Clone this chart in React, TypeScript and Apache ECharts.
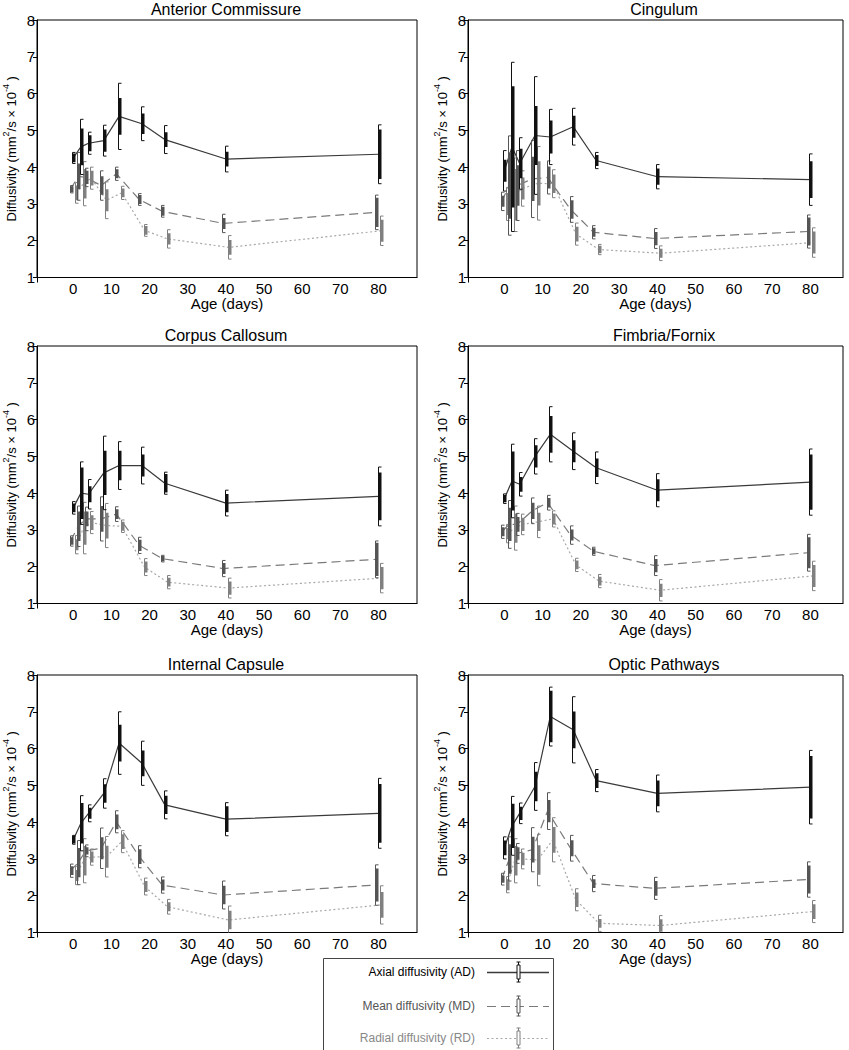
import React, { useEffect, useRef } from "react";
import * as echarts from "echarts";

// ---------- data ----------
const ages = [0, 2, 4, 8, 12, 18, 24, 40, 80];
const xTickValues = [0, 10, 20, 30, 40, 50, 60, 70, 80];
const panelTitles = [
  "Anterior Commissure",
  "Cingulum",
  "Corpus Callosum",
  "Fimbria/Fornix",
  "Internal Capsule",
  "Optic Pathways",
];
const measureNames = ["Axial diffusivity (AD)", "Mean diffusivity (MD)", "Radial diffusivity (RD)"];

// each entry: [mean, whisker half-length, box half-length]  (×10^-4 mm²/s)
const acAD = [[4.25, 0.15, 0.12], [4.55, 0.75, 0.5], [4.65, 0.3, 0.22], [4.72, 0.42, 0.3], [5.38, 0.9, 0.5], [5.18, 0.46, 0.28], [4.75, 0.38, 0.2], [4.22, 0.35, 0.2], [4.35, 0.8, 0.67]];
const acMD = [[3.4, 0.1, 0.08], [3.75, 0.65, 0.35], [3.72, 0.25, 0.18], [3.5, 0.4, 0.25], [3.82, 0.18, 0.12], [3.12, 0.16, 0.12], [2.8, 0.16, 0.12], [2.47, 0.25, 0.15], [2.77, 0.47, 0.4]];
const acRD = [[3.3, 0.28, 0.2], [3.55, 0.6, 0.4], [3.7, 0.3, 0.2], [3.1, 0.5, 0.3], [3.3, 0.18, 0.12], [2.28, 0.16, 0.12], [2.05, 0.25, 0.15], [1.82, 0.32, 0.2], [2.27, 0.4, 0.3]];

const cgAD = [[3.9, 0.55, 0.3], [4.55, 2.3, 1.65], [4.1, 0.7, 0.4], [4.86, 1.6, 0.8], [4.82, 0.75, 0.45], [5.1, 0.5, 0.3], [4.18, 0.22, 0.15], [3.74, 0.33, 0.22], [3.66, 0.7, 0.5]];
const cgMD = [[3.07, 0.25, 0.15], [3.5, 1.35, 0.9], [3.5, 0.95, 0.55], [3.68, 1.05, 0.6], [3.72, 0.45, 0.3], [2.85, 0.35, 0.25], [2.23, 0.18, 0.12], [2.06, 0.27, 0.18], [2.25, 0.45, 0.38]];
const cgRD = [[3.0, 0.45, 0.3], [3.25, 1.0, 0.7], [3.42, 0.48, 0.3], [3.56, 1.0, 0.6], [3.55, 0.38, 0.25], [2.18, 0.3, 0.2], [1.76, 0.14, 0.1], [1.66, 0.2, 0.12], [1.95, 0.4, 0.3]];

const ccAD = [[3.6, 0.17, 0.12], [4.0, 0.85, 0.7], [3.97, 0.4, 0.22], [4.55, 1.0, 0.6], [4.75, 0.65, 0.4], [4.75, 0.5, 0.3], [4.27, 0.3, 0.25], [3.73, 0.35, 0.25], [3.91, 0.8, 0.65]];
const ccMD = [[2.7, 0.14, 0.1], [3.1, 0.55, 0.4], [3.3, 0.32, 0.2], [3.3, 0.6, 0.35], [3.43, 0.2, 0.13], [2.58, 0.22, 0.15], [2.22, 0.09, 0.07], [1.95, 0.22, 0.15], [2.2, 0.5, 0.45]];
const ccRD = [[2.6, 0.25, 0.15], [3.05, 0.7, 0.45], [3.2, 0.3, 0.2], [3.12, 0.6, 0.35], [3.1, 0.17, 0.12], [1.99, 0.23, 0.15], [1.58, 0.18, 0.12], [1.42, 0.27, 0.18], [1.69, 0.4, 0.3]];

const ffAD = [[3.85, 0.13, 0.1], [4.33, 1.0, 0.8], [4.24, 0.32, 0.2], [5.0, 0.48, 0.3], [5.6, 0.75, 0.5], [5.14, 0.5, 0.3], [4.69, 0.43, 0.25], [4.08, 0.45, 0.3], [4.3, 0.9, 0.75]];
const ffMD = [[2.95, 0.18, 0.12], [3.15, 0.65, 0.45], [3.15, 0.3, 0.2], [3.52, 0.35, 0.22], [3.74, 0.2, 0.13], [2.86, 0.25, 0.15], [2.42, 0.11, 0.08], [2.03, 0.27, 0.18], [2.38, 0.5, 0.42]];
const ffRD = [[2.9, 0.25, 0.15], [3.05, 0.6, 0.4], [3.15, 0.28, 0.18], [3.22, 0.43, 0.25], [3.3, 0.22, 0.15], [2.05, 0.18, 0.12], [1.61, 0.18, 0.12], [1.36, 0.29, 0.18], [1.75, 0.4, 0.3]];

const icAD = [[3.52, 0.12, 0.1], [3.97, 0.75, 0.55], [4.24, 0.23, 0.15], [4.78, 0.4, 0.25], [6.15, 0.85, 0.5], [5.6, 0.6, 0.35], [4.47, 0.38, 0.25], [4.08, 0.45, 0.35], [4.24, 0.95, 0.8]];
const icMD = [[2.68, 0.18, 0.12], [2.9, 0.6, 0.4], [3.22, 0.16, 0.1], [3.29, 0.55, 0.3], [4.01, 0.3, 0.2], [3.06, 0.3, 0.2], [2.29, 0.22, 0.15], [2.02, 0.38, 0.25], [2.29, 0.55, 0.45]];
const icRD = [[2.55, 0.25, 0.15], [2.95, 0.6, 0.4], [3.05, 0.22, 0.15], [3.06, 0.55, 0.3], [3.47, 0.3, 0.2], [2.25, 0.23, 0.15], [1.7, 0.2, 0.12], [1.34, 0.38, 0.25], [1.75, 0.52, 0.35]];

const opAD = [[3.3, 0.3, 0.2], [3.9, 0.8, 0.6], [4.24, 0.28, 0.18], [4.97, 0.65, 0.4], [6.87, 0.8, 0.7], [6.51, 0.9, 0.5], [5.13, 0.3, 0.2], [4.78, 0.5, 0.35], [4.95, 1.0, 0.85]];
const opMD = [[2.45, 0.16, 0.1], [3.0, 0.6, 0.4], [3.15, 0.27, 0.17], [3.25, 0.6, 0.35], [4.3, 0.5, 0.3], [3.29, 0.35, 0.22], [2.33, 0.22, 0.12], [2.2, 0.3, 0.2], [2.44, 0.48, 0.38]];
const opRD = [[2.3, 0.22, 0.15], [2.95, 0.6, 0.4], [3.0, 0.27, 0.17], [2.97, 0.7, 0.4], [3.52, 0.6, 0.35], [1.89, 0.3, 0.2], [1.25, 0.22, 0.12], [1.19, 0.27, 0.17], [1.57, 0.3, 0.2]];

const panelData = [
  [acAD, acMD, acRD],
  [cgAD, cgMD, cgRD],
  [ccAD, ccMD, ccRD],
  [ffAD, ffMD, ffRD],
  [icAD, icMD, icRD],
  [opAD, opMD, opRD],
];

// ---------- styles ----------
const FONT = "'Liberation Sans', Arial, sans-serif";
const lineColors = ["#3a3a3a", "#7a7a7a", "#a8a8a8"];
const barColors = ["#111111", "#555555", "#808080"];
const lineTypes: any[] = ["solid", [9, 5], [2, 2.5]];
const dodge = [0, -0.7, 0.7]; // days, horizontal offset so bars do not overlap

const colLeft = [36, 468];
const colWidth = [381, 375];
const rowTop = [20, 346, 675];
const plotHeight = 257.5;
const titleCenter = [226, 664];

function makeRender(color: string) {
  return function (params: any, api: any) {
    const x = api.value(0);
    const m = api.value(1);
    const sd = api.value(2);
    const se = api.value(3);
    const top = api.coord([x, m + sd]);
    const bot = api.coord([x, m - sd]);
    const bt = api.coord([x, m + se]);
    const bb = api.coord([x, m - se]);
    const cx = Math.round(top[0]) + 0.5;
    const wx = cx - 1;
    const st = { stroke: color, lineWidth: 1 };
    return {
      type: "group",
      children: [
        { type: "line", shape: { x1: wx, y1: top[1], x2: wx, y2: bot[1] }, style: st },
        { type: "line", shape: { x1: wx, y1: top[1], x2: wx + 3, y2: top[1] }, style: st },
        { type: "line", shape: { x1: wx, y1: bot[1], x2: wx + 3, y2: bot[1] }, style: st },
        {
          type: "rect",
          shape: { x: cx - 0.5, y: bt[1], width: 2.5, height: bb[1] - bt[1] },
          style: { fill: color },
        },
      ],
    };
  };
}

function buildOption() {
  const grid: any[] = [];
  const xAxis: any[] = [];
  const yAxis: any[] = [];
  const title: any[] = [];
  const series: any[] = [];

  panelTitles.forEach((name, i) => {
    const col = i % 2;
    const row = Math.floor(i / 2);
    grid.push({
      left: colLeft[col],
      top: rowTop[row],
      width: colWidth[col],
      height: plotHeight,
      show: true,
      borderColor: "#000",
      borderWidth: 1,
      backgroundColor: "transparent",
    });
    const xMin = -9.5;
    const xMax = xMin + colWidth[col] / 3.826;
    xAxis.push({
      gridIndex: i,
      type: "value",
      min: xMin,
      max: xMax,
      axisLine: { show: true, onZero: false, lineStyle: { color: "#000", width: 1 } },
      axisTick: { show: true, customValues: [xMin], length: 5, lineStyle: { color: "#000" } },
      axisLabel: {
        customValues: xTickValues,
        color: "#000",
        fontSize: 15,
        fontFamily: FONT,
        margin: 3,
      },
      splitLine: { show: false },
      name: "Age (days)",
      nameLocation: "middle",
      nameGap: 17,
      nameTextStyle: { color: "#000", fontSize: 15, fontFamily: FONT },
    });
    yAxis.push({
      gridIndex: i,
      type: "value",
      min: 1,
      max: 8,
      interval: 1,
      axisLine: { show: true, onZero: false, lineStyle: { color: "#000", width: 1 } },
      axisTick: { show: true, length: 4, lineStyle: { color: "#000" } },
      axisLabel: { color: "#000", fontSize: 15, fontFamily: FONT, margin: 2 },
      splitLine: { show: false },
      name: "{n|Diffusivity (mm}{s|2}{n|/s × 10}{s|-4}{n| )}",
      nameLocation: "middle",
      nameRotate: 90,
      nameGap: 16,
      nameTextStyle: {
        color: "#000",
        fontFamily: FONT,
        rich: {
          n: { fontSize: 13, fontFamily: FONT, color: "#000", lineHeight: 20, verticalAlign: "middle" },
          s: { fontSize: 9, fontFamily: FONT, color: "#000", verticalAlign: "top", lineHeight: 10 },
        },
      },
    });
    title.push({
      text: name,
      left: titleCenter[col],
      top: rowTop[row] - 19,
      textAlign: "center",
      textStyle: { fontSize: 16, fontWeight: "normal", color: "#000", fontFamily: FONT },
      padding: 0,
    });

    const measures = panelData[i];
    // draw RD first, AD last (on top)
    [2, 1, 0].forEach((k) => {
      const arr = measures[k];
      series.push({
        type: "line",
        name: measureNames[k],
        xAxisIndex: i,
        yAxisIndex: i,
        data: ages.map((a, j) => [a + dodge[k], arr[j][0]]),
        symbol: "none",
        silent: true,
        z: 2,
        lineStyle: { color: lineColors[k], width: 1.2, type: lineTypes[k] },
      });
      series.push({
        type: "custom",
        name: measureNames[k] + " bars",
        xAxisIndex: i,
        yAxisIndex: i,
        data: ages.map((a, j) => [a + dodge[k], arr[j][0], arr[j][1], arr[j][2]]),
        encode: { x: 0, y: 1 },
        renderItem: makeRender(barColors[k]),
        clip: true,
        silent: true,
        z: 3,
      });
    });
  });

  // legend (drawn as graphic)
  const lgX = 323;
  const lgY = 958;
  const rowsY = [972, 1006, 1038];
  const textColors = ["#000", "#555", "#888"];
  const legendChildren: any[] = [
    {
      type: "rect",
      shape: { x: lgX + 0.5, y: lgY + 0.5, width: 230, height: 110 },
      style: { fill: "#fff", stroke: "#444", lineWidth: 1 },
    },
  ];
  rowsY.forEach((y, k) => {
    legendChildren.push({
      type: "text",
      style: {
        text: measureNames[k],
        x: 475,
        y: y,
        align: "right",
        verticalAlign: "middle",
        fontSize: 12,
        fontFamily: FONT,
        fill: textColors[k],
      },
    });
    legendChildren.push({
      type: "line",
      shape: { x1: 487, y1: y + 0.5, x2: 549, y2: y + 0.5 },
      style: {
        stroke: lineColors[k],
        lineWidth: k === 0 ? 1.3 : 1.1,
        lineDash: k === 0 ? null : lineTypes[k],
      },
    });
    const gx = 518.5;
    const c = barColors[k];
    legendChildren.push({ type: "line", shape: { x1: gx, y1: y - 10, x2: gx, y2: y + 10 }, style: { stroke: c, lineWidth: 1 } });
    legendChildren.push({ type: "line", shape: { x1: gx - 2, y1: y - 10, x2: gx + 2, y2: y - 10 }, style: { stroke: c, lineWidth: 1 } });
    legendChildren.push({ type: "line", shape: { x1: gx - 2, y1: y + 10, x2: gx + 2, y2: y + 10 }, style: { stroke: c, lineWidth: 1 } });
    legendChildren.push({
      type: "rect",
      shape: { x: gx - 1.5, y: y - 7, width: 3, height: 14 },
      style: { fill: "#fff", stroke: c, lineWidth: 1 },
    });
  });

  return {
    animation: false,
    backgroundColor: "#fff",
    title,
    grid,
    xAxis,
    yAxis,
    series,
    graphic: [{ type: "group", children: legendChildren }],
  };
}

export default function App() {
  const ref = useRef<HTMLDivElement>(null);
  useEffect(() => {
    document.body.style.margin = "0";
    if (!ref.current) return;
    const chart = echarts.init(ref.current, undefined, { renderer: "svg" });
    chart.setOption(buildOption() as any);
    return () => {
      chart.dispose();
    };
  }, []);
  return <div ref={ref} style={{ width: 849, height: 1050 }} />;
}
